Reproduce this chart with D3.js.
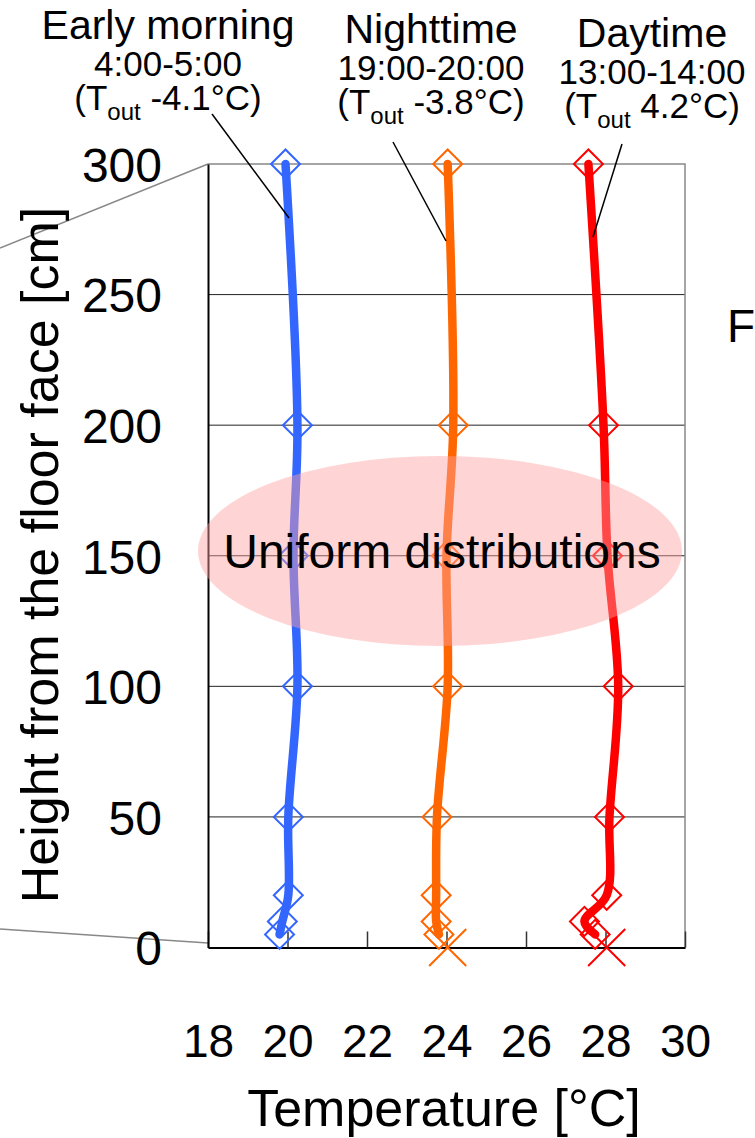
<!DOCTYPE html>
<html lang="en">
<head>
  <meta charset="UTF-8">
  <script src="https://cdn.jsdelivr.net/npm/d3@7"></script>
  <title>Vertical temperature distribution</title>
  <style>
    body { margin: 0; background: #fff; }
    svg { display: block; }
    text { font-family: 'Liberation Sans', Arial, sans-serif; fill: #000; }
  </style>
</head>
<body>
  <svg id="chart" width="755" height="1138"></svg>
  <script>
    // heights of the measuring points [cm]
    const heights = [300, 200, 150, 100, 50, 20, 10, 5];
    // temperatures [°C] read at each height
    const earlyMorning = [19.95, 20.25, 20.15, 20.25, 20.02, 20.02, 19.87, 19.8];
    const nighttime = [24.03, 24.17, 24.0, 24.03, 23.76, 23.74, 23.74, 23.81];
    const daytime = [27.57, 27.95, 28.05, 28.32, 28.1, 28.03, 27.47, 27.74];
    // floor surface temperatures (x markers at 0 cm)
    const floorSeries = ["Nighttime", "Daytime"];
    const floorTemps = [24.03, 28.03];

    const xTicks = [18, 20, 22, 24, 26, 28, 30];
    const yTicks = [0, 50, 100, 150, 200, 250, 300];

    const headers = [
      { name: "Early morning", time: "4:00-5:00", tout: "-4.1°C" },
      { name: "Nighttime", time: "19:00-20:00", tout: "-3.8°C" },
      { name: "Daytime", time: "13:00-14:00", tout: "4.2°C" }
    ];

    const series = [
      { name: "Early morning", values: earlyMorning, color: "#3366ff" },
      { name: "Nighttime", values: nighttime, color: "#ff6600" },
      { name: "Daytime", values: daytime, color: "#ff0000" }
    ];

    const svg = d3.select("#chart");
    const plotL = 208, plotR = 685, plotT = 164, plotB = 947.5;

    const x = d3.scaleLinear().domain([18, 30]).range([plotL, plotR]);
    const y = d3.scaleLinear().domain([0, 300]).range([plotB, plotT]);

    // gray zoom lines coming from the previous figure
    svg.append("line").attr("x1", plotL).attr("y1", plotT).attr("x2", 0).attr("y2", 248)
      .attr("stroke", "#888").attr("stroke-width", 1.5);
    svg.append("line").attr("x1", plotL).attr("y1", 943).attr("x2", 0).attr("y2", 929)
      .attr("stroke", "#888").attr("stroke-width", 1.5);

    // grid
    svg.append("g").selectAll("line.grid")
      .data(yTicks.filter(d => d > 0 && d < 300)).enter().append("line").attr("class", "grid")
      .attr("x1", plotL).attr("x2", plotR)
      .attr("y1", d => y(d)).attr("y2", d => y(d))
      .attr("stroke", "#222").attr("stroke-width", 1);

    // frame: gray top and right
    svg.append("path")
      .attr("d", `M${plotL},${plotT}H${plotR}V${plotB}`)
      .attr("fill", "none").attr("stroke", "#888").attr("stroke-width", 1.5);

    // x axis
    const xAxis = svg.append("g").attr("transform", `translate(0,${plotB})`)
      .call(d3.axisBottom(x).tickValues(xTicks).tickSizeInner(-16).tickSizeOuter(0).tickPadding(77));
    xAxis.select(".domain").attr("stroke-width", 2);
    xAxis.selectAll(".tick line").attr("stroke", "#333").attr("stroke-width", 1.5);
    xAxis.selectAll("text").attr("font-size", 46).attr("font-family", "'Liberation Sans', Arial, sans-serif");

    // y axis
    const yAxis = svg.append("g").attr("transform", `translate(${plotL},0)`)
      .call(d3.axisLeft(y).tickValues(yTicks).tickSize(0).tickPadding(46));
    yAxis.select(".domain").attr("stroke-width", 2);
    yAxis.selectAll("text").attr("font-size", 48).attr("dy", "0.36em")
      .attr("font-family", "'Liberation Sans', Arial, sans-serif");

    // markers
    const diamond = d3.symbol().type(d3.symbolSquare).size(420);
    series.forEach(s => {
      svg.append("g").selectAll("path.mark")
        .data(heights.map((h, i) => ({ h, t: s.values[i] })))
        .enter().append("path").attr("class", "mark")
        .attr("d", diamond)
        .attr("transform", d => `translate(${x(d.t)},${y(d.h)}) rotate(45)`)
        .attr("fill", "none").attr("stroke", s.color).attr("stroke-width", 2);
    });

    // floor surface x markers
    const cross = d3.symbol().type(d3.symbolX).size(900);
    svg.append("g").selectAll("path.floor")
      .data(floorTemps).enter().append("path").attr("class", "floor")
      .attr("d", cross)
      .attr("transform", d => `translate(${x(d)},${y(0)})`)
      .attr("fill", "none")
      .attr("stroke", (d, i) => series.find(s => s.name === floorSeries[i]).color)
      .attr("stroke-width", 2);

    // lines
    const line = d3.line()
      .x(d => x(d.t)).y(d => y(d.h))
      .curve(d3.curveCatmullRom.alpha(0.5));
    series.forEach(s => {
      svg.append("path")
        .datum(heights.map((h, i) => ({ h, t: s.values[i] })))
        .attr("d", line)
        .attr("fill", "none").attr("stroke", s.color)
        .attr("stroke-width", 8.5).attr("stroke-linecap", "round").attr("stroke-linejoin", "round");
    });

    // highlighted zone
    svg.append("ellipse")
      .attr("cx", 440).attr("cy", 551).attr("rx", 242).attr("ry", 95)
      .attr("fill", "#ff9f9f").attr("fill-opacity", 0.45);
    svg.append("text").attr("x", 442).attr("y", 568)
      .attr("text-anchor", "middle").attr("font-size", 48)
      .text("Uniform distributions");

    // header labels
    const headX = [168, 431, 652];
    const headY = [39, 43, 47];
    headers.forEach((h, i) => {
      const g = svg.append("g").attr("transform", `translate(${headX[i]},${headY[i]})`);
      g.append("text").attr("text-anchor", "middle").attr("font-size", 41).text(h.name);
      g.append("text").attr("text-anchor", "middle").attr("y", 37).attr("font-size", 35).text(h.time);
      const t = g.append("text").attr("text-anchor", "middle").attr("y", 71).attr("font-size", 35);
      t.append("tspan").text("(T");
      t.append("tspan").attr("font-size", 24).attr("dy", 10).text("out");
      t.append("tspan").attr("dy", -10).text(" " + h.tout + ")");
    });

    // leader lines from labels to curves
    const leaders = [
      [[212, 114], [289, 218]],
      [[393, 142], [446, 241]],
      [[622, 144], [593, 237]]
    ];
    svg.append("g").selectAll("line.leader")
      .data(leaders).enter().append("line").attr("class", "leader")
      .attr("x1", d => d[0][0]).attr("y1", d => d[0][1])
      .attr("x2", d => d[1][0]).attr("y2", d => d[1][1])
      .attr("stroke", "#000").attr("stroke-width", 1.5);

    // axis titles
    svg.append("text").attr("x", 444).attr("y", 1126)
      .attr("text-anchor", "middle").attr("font-size", 52)
      .text("Temperature [°C]");
    svg.append("text").attr("transform", "translate(58,555) rotate(-90)")
      .attr("text-anchor", "middle").attr("font-size", 52)
      .text("Height from the floor face [cm]");

    // start of the next figure's label at the right edge
    svg.append("text").attr("x", 727).attr("y", 342).attr("font-size", 46).text("F");
  </script>
</body>
</html>
